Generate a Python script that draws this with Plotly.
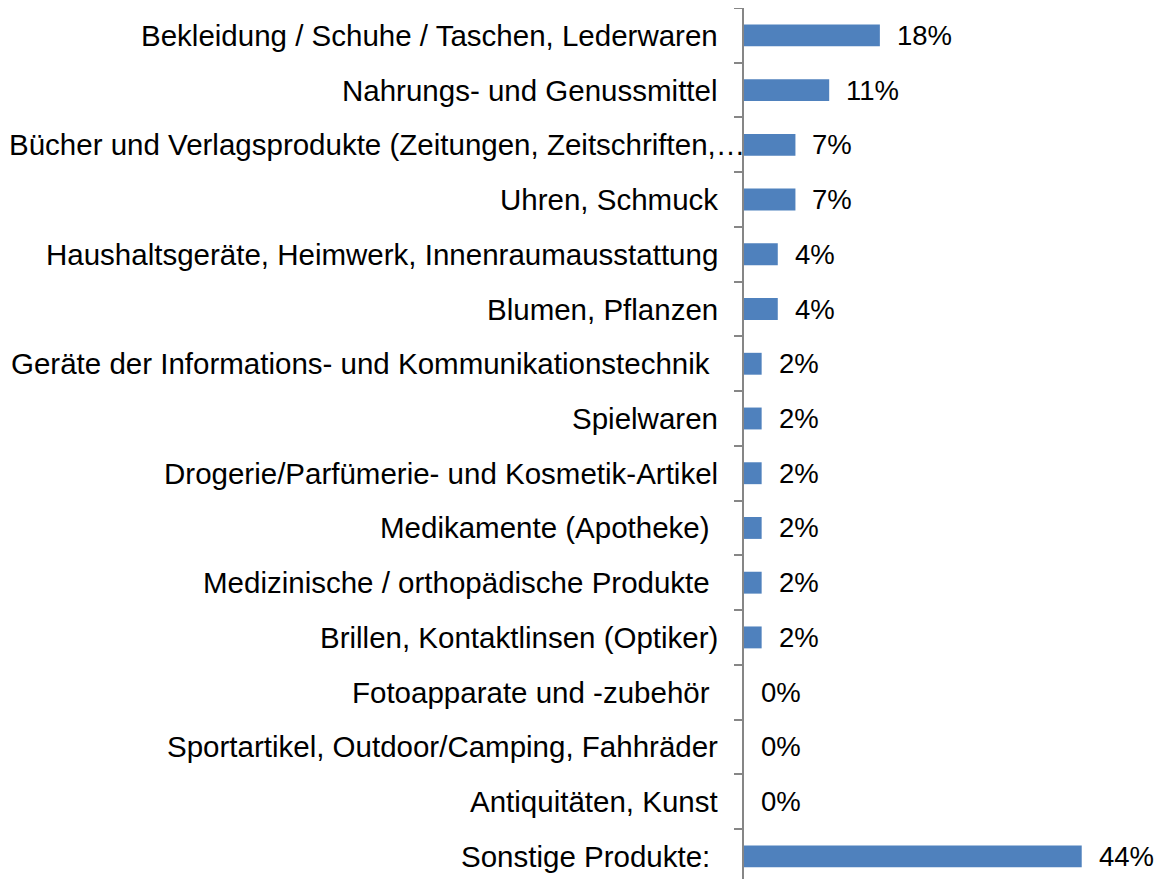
import plotly.graph_objects as go

categories = [
    "Bekleidung / Schuhe / Taschen, Lederwaren",
    "Nahrungs- und Genussmittel",
    "Bücher und Verlagsprodukte (Zeitungen, Zeitschriften,…",
    "Uhren, Schmuck",
    "Haushaltsgeräte, Heimwerk, Innenraumausstattung",
    "Blumen, Pflanzen",
    "Geräte der Informations- und Kommunikationstechnik ",
    "Spielwaren",
    "Drogerie/Parfümerie- und Kosmetik-Artikel",
    "Medikamente (Apotheke) ",
    "Medizinische / orthopädische Produkte ",
    "Brillen, Kontaktlinsen (Optiker)",
    "Fotoapparate und -zubehör ",
    "Sportartikel, Outdoor/Camping, Fahhräder",
    "Antiquitäten, Kunst",
    "Sonstige Produkte: ",
]
values = [17.7, 11.1, 6.7, 6.7, 4.4, 4.4, 2.3, 2.3, 2.3, 2.3, 2.3, 2.3, 0, 0, 0, 44.0]

FONT = "Liberation Sans, Arial, sans-serif"
FS_CAT = 29.5
FS_VAL = 27.5
BAR = "#4F81BD"
AXIS = "#868686"

fig = go.Figure(go.Bar(
    x=values, y=categories, orientation="h",
    marker=dict(color=BAR, line=dict(width=0)),
    hoverinfo="skip",
))

annotations = []
for c, v in zip(categories, values):
    # value label
    annotations.append(dict(
        x=v, y=c, xref="x", yref="y", text=f"{round(v)}%",
        xanchor="left", yanchor="middle", xshift=15, showarrow=False,
        font=dict(family=FONT, size=FS_VAL, color="#000000"),
    ))
    # category label
    label = c.rstrip(" ") + ("\u00a0" if c.endswith(" ") else "")
    shift = 3 if c.endswith("…") else -24
    annotations.append(dict(
        x=0, y=c, xref="paper", yref="y", text=label,
        xanchor="right", yanchor="middle", xshift=shift, showarrow=False,
        font=dict(family=FONT, size=FS_CAT, color="#000000"),
    ))

fig.update_layout(
    width=1156, height=871,
    margin=dict(l=736, r=0, t=0, b=0),
    paper_bgcolor="white", plot_bgcolor="white",
    showlegend=False,
    bargap=0.6,
    annotations=annotations,
    xaxis=dict(range=[0, 54.72], visible=False, showgrid=False, zeroline=False, fixedrange=True),
    yaxis=dict(
        type="category", autorange=False, range=[15.414, -0.5],
        showticklabels=False, showgrid=False, zeroline=False,
        showline=True, linecolor=AXIS, linewidth=1.5,
        ticks="outside", tickson="boundaries", ticklen=8, tickcolor=AXIS, tickwidth=1.5,
    ),
)

fig.write_html("out.html")
